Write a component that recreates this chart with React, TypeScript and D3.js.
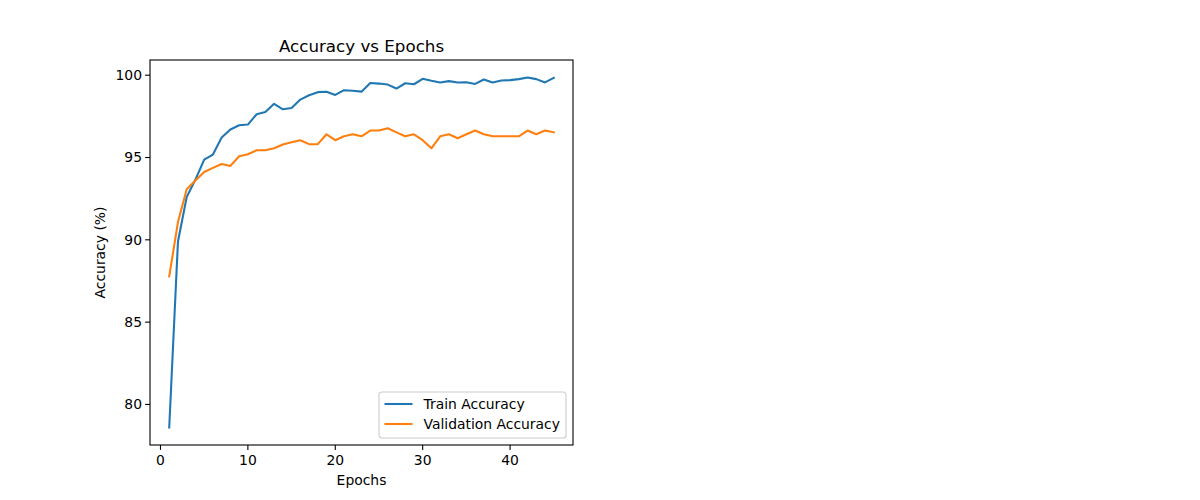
import { useMemo } from "react";
import * as d3 from "d3";

const epochs = d3.range(1, 46);

const trainAccuracy = [
  78.6, 89.9, 92.6, 93.66, 94.87, 95.18, 96.21, 96.7, 96.96, 97.0,
  97.63, 97.77, 98.26, 97.93, 98.01, 98.52, 98.78, 98.97, 98.99, 98.8,
  99.09, 99.05, 99.0, 99.53, 99.49, 99.43, 99.19, 99.51, 99.45, 99.78,
  99.66, 99.56, 99.64, 99.56, 99.57, 99.47, 99.74, 99.56, 99.68, 99.7,
  99.76, 99.86, 99.76, 99.56, 99.84
];

const validationAccuracy = [
  87.78, 91.08, 93.07, 93.6, 94.12, 94.37, 94.61, 94.49, 95.08, 95.2,
  95.44, 95.44, 95.56, 95.79, 95.93, 96.05, 95.81, 95.81, 96.41, 96.05,
  96.29, 96.41, 96.29, 96.64, 96.64, 96.78, 96.53, 96.29, 96.41, 96.05,
  95.56, 96.29, 96.41, 96.17, 96.41, 96.64, 96.41, 96.29, 96.29, 96.29,
  96.29, 96.64, 96.41, 96.64, 96.53
];

const xTicks = [0, 10, 20, 30, 40];
const yTicks = [80, 85, 90, 95, 100];

const seriesNames = ["Train Accuracy", "Validation Accuracy"];
const seriesColors = ["#1f77b4", "#ff7f0e"];

const FONT = "DejaVu Sans, sans-serif";

export default function App() {
  const margin = { top: 60, left: 150 };
  const innerWidth = 423;
  const innerHeight = 385;

  const { x, y, paths } = useMemo(() => {
    const [x0, x1] = d3.extent(epochs) as [number, number];
    const xPad = (x1 - x0) * 0.05;
    const x = d3.scaleLinear().domain([x0 - xPad, x1 + xPad]).range([0, innerWidth]);

    const all = [...trainAccuracy, ...validationAccuracy];
    const [y0, y1] = d3.extent(all) as [number, number];
    const yPad = (y1 - y0) * 0.05;
    const y = d3.scaleLinear().domain([y0 - yPad, y1 + yPad]).range([innerHeight, 0]);

    const line = d3
      .line<number>()
      .x((_, i) => x(epochs[i]))
      .y(d => y(d));

    return { x, y, paths: [line(trainAccuracy), line(validationAccuracy)] };
  }, []);

  const legendX = 229;
  const legendY = 332;

  return (
    <svg
      width={1200}
      height={500}
      style={{ position: "absolute", left: 0, top: 0, background: "#fff" }}
      fontFamily={FONT}
    >
      <rect width={1200} height={500} fill="#fff" />
      <text x={margin.left + innerWidth / 2} y={52} textAnchor="middle" fontSize={16.7} fill="#000">
        Accuracy vs Epochs
      </text>

      <g transform={`translate(${margin.left},${margin.top})`}>
        <defs>
          <clipPath id="plot-clip">
            <rect width={innerWidth} height={innerHeight} />
          </clipPath>
        </defs>

        <g clipPath="url(#plot-clip)">
          {paths.map((d, i) => (
            <path
              key={i}
              d={d ?? ""}
              fill="none"
              stroke={seriesColors[i]}
              strokeWidth={2.08}
              strokeLinejoin="round"
              strokeLinecap="square"
            />
          ))}
        </g>

        {/* x axis */}
        {xTicks.map(t => (
          <g key={t} transform={`translate(${x(t)},${innerHeight})`}>
            <line y2={4.9} stroke="#000" strokeWidth={1.1} />
            <text y={20} textAnchor="middle" fontSize={13.9} fill="#000">
              {t}
            </text>
          </g>
        ))}
        <text x={innerWidth / 2} y={innerHeight + 40} textAnchor="middle" fontSize={13.9} fill="#000">
          Epochs
        </text>

        {/* y axis */}
        {yTicks.map(t => (
          <g key={t} transform={`translate(0,${y(t)})`}>
            <line x2={-4.9} stroke="#000" strokeWidth={1.1} />
            <text x={-8} dy="0.35em" textAnchor="end" fontSize={13.9} fill="#000">
              {t}
            </text>
          </g>
        ))}
        <text
          transform={`translate(${-45},${innerHeight / 2}) rotate(-90)`}
          textAnchor="middle"
          fontSize={13.9}
          fill="#000"
        >
          Accuracy (%)
        </text>

        <rect
          width={innerWidth}
          height={innerHeight}
          fill="none"
          stroke="#000"
          strokeWidth={1.1}
        />

        {/* legend */}
        <g transform={`translate(${legendX},${legendY})`}>
          <rect
            width={187}
            height={46}
            rx={3}
            fill="#fff"
            fillOpacity={0.8}
            stroke="#cccccc"
            strokeWidth={1.1}
          />
          {seriesNames.map((name, i) => (
            <g key={name} transform={`translate(0,${12 + i * 20})`}>
              <line x1={5.5} x2={33.5} stroke={seriesColors[i]} strokeWidth={2.08} />
              <text x={44.5} dy="0.35em" fontSize={13.9} fill="#000">
                {name}
              </text>
            </g>
          ))}
        </g>
      </g>
    </svg>
  );
}
